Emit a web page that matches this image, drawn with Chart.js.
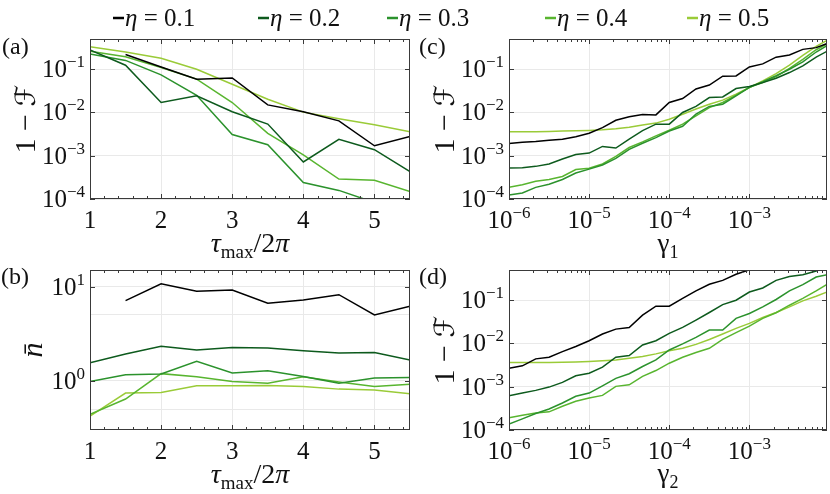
<!DOCTYPE html>
<html>
<head>
<meta charset="utf-8">
<script src="https://cdn.jsdelivr.net/npm/chart.js@4.4.1/dist/chart.umd.min.js"></script>
<style>
  body { margin: 0; background: #fff; }
  #wrap { position: relative; width: 830px; height: 494px; }
  #wrap canvas { position: absolute; left: 0; top: 0; }
</style>
</head>
<body>
<div id="wrap">
  <canvas id="pa" width="830" height="494"></canvas>
  <canvas id="pb" width="830" height="494"></canvas>
  <canvas id="pc" width="830" height="494"></canvas>
  <canvas id="pd" width="830" height="494"></canvas>
</div>
<script>
// ---- data ----
const etaLabels = ['0.1', '0.2', '0.3', '0.4', '0.5'];
const etaColors = ['#000000', '#0d5a1d', '#2b922c', '#58b52f', '#9acb38'];

const tauMax = [1, 1.5, 2, 2.5, 3, 3.5, 4, 4.5, 5, 5.5];

// (a) 1 - F vs tau_max / 2pi
const infidTau01 = [null, 0.22, 0.113, 0.059, 0.063, 0.015, 0.0104, 0.0064, 0.0017, 0.0028];
const infidTau02 = [0.279, 0.124, 0.017, 0.0243, 0.0104, 0.0054, 0.00072, 0.0024, 0.00138, 0.00043];
const infidTau03 = [0.226, 0.16, 0.074, 0.025, 0.0031, 0.0018, 0.00024, 0.000158, 8.3e-5, 5e-5];
const infidTau04 = [0.26, 0.195, 0.11, 0.059, 0.017, 0.0033, 0.00105, 0.00029, 0.00027, 0.000148];
const infidTau05 = [0.333, 0.25, 0.179, 0.1, 0.045, 0.0203, 0.0102, 0.0072, 0.0052, 0.0036];

// (b) mean phonon number vs tau_max / 2pi
const nbarTau01 = [null, 7.1, 10.7, 8.9, 9.2, 6.65, 7.2, 8.2, 5.0, 6.2];
const nbarTau02 = [1.55, 1.92, 2.32, 2.12, 2.26, 2.23, 2.08, 1.97, 1.99, 1.66];
const nbarTau03 = [0.98, 1.16, 1.18, 1.61, 1.21, 1.28, 1.11, 0.94, 1.07, 1.08];
const nbarTau04 = [0.44, 0.64, 1.19, 1.10, 0.98, 0.94, 1.10, 0.97, 0.87, 0.92];
const nbarTau05 = [0.42, 0.74, 0.75, 0.885, 0.885, 0.89, 0.87, 0.815, 0.80, 0.73];

// decay rates (shared by c and d)
const gammas = [
  1e-6, 1.468e-6, 2.154e-6, 3.162e-6, 4.642e-6, 6.813e-6,
  1e-5, 1.468e-5, 2.154e-5, 3.162e-5, 4.642e-5, 6.813e-5,
  1e-4, 1.468e-4, 2.154e-4, 3.162e-4, 4.642e-4, 6.813e-4,
  1e-3, 1.468e-3, 2.154e-3, 3.162e-3, 4.642e-3, 6.813e-3, 1e-2
];

// (c) 1 - F vs gamma_1
const infidG1_01 = [1.93e-3, 2.04e-3, 2.14e-3, 2.29e-3, 2.40e-3, 2.75e-3, 3.31e-3, 4.47e-3, 6.6e-3, 8.0e-3, 9.0e-3, 8.8e-3,
  1.7e-2, 2.1e-2, 3.5e-2, 4.3e-2, 6.9e-2, 7.0e-2, 0.113, 0.133, 0.19, 0.214, 0.288, 0.316, 0.41];
const infidG1_02 = [5.19e-4, 5.28e-4, 5.68e-4, 6.46e-4, 8.38e-4, 1.07e-3, 1.15e-3, 1.64e-3, 1.51e-3, 2.43e-3, 3.8e-3, 5.37e-3,
  5.37e-3, 1.0e-2, 1.38e-2, 2.22e-2, 2.29e-2, 3.58e-2, 3.98e-2, 4.9e-2, 6.17e-2, 8.38e-2, 0.119, 0.19, 0.28];
const infidG1_03 = [1.23e-4, 1.38e-4, 1.86e-4, 2.19e-4, 2.82e-4, 3.98e-4, 4.9e-4, 6.1e-4, 8.71e-4, 1.41e-3, 1.95e-3, 2.63e-3,
  3.72e-3, 4.79e-3, 9.12e-3, 1.38e-2, 1.55e-2, 2.43e-2, 3.8e-2, 5.13e-2, 7.08e-2, 0.1, 0.148, 0.25, 0.38];
const infidG1_04 = [1.86e-4, 2.14e-4, 2.57e-4, 2.82e-4, 3.31e-4, 4.79e-4, 5.13e-4, 6.46e-4, 9.66e-4, 1.55e-3, 2.09e-3, 2.88e-3,
  3.89e-3, 5.37e-3, 8.32e-3, 1.3e-2, 1.7e-2, 2.51e-2, 3.8e-2, 4.9e-2, 6.76e-2, 0.105, 0.17, 0.282, 0.417];
const infidG1_05 = [3.58e-3, 3.58e-3, 3.58e-3, 3.63e-3, 3.72e-3, 3.78e-3, 3.85e-3, 3.98e-3, 4.2e-3, 4.57e-3, 5.13e-3, 5.68e-3,
  7.0e-3, 9.12e-3, 1.2e-2, 1.55e-2, 1.93e-2, 2.65e-2, 3.78e-2, 5.37e-2, 7.94e-2, 0.124, 0.209, 0.339, 0.5];

// (d) 1 - F vs gamma_2
const infidG2_01 = [2.69e-3, 3.04e-3, 4.41e-3, 4.81e-3, 6.49e-3, 8.51e-3, 1.16e-2, 1.66e-2, 2.15e-2, 2.34e-2, 4.52e-2, 7.28e-2,
  7.28e-2, 0.11, 0.164, 0.234, 0.288, 0.398, 0.507, 0.63, 0.76, 0.87, 0.93, 0.98, 1.0];
const infidG2_02 = [6.21e-4, 7.14e-4, 8.24e-4, 9.82e-4, 1.26e-3, 1.79e-3, 2.06e-3, 2.83e-3, 4.81e-3, 5.25e-3, 9.25e-3, 1.16e-2,
  1.71e-2, 2.36e-2, 3.47e-2, 5.2e-2, 7.94e-2, 0.1, 0.155, 0.192, 0.288, 0.355, 0.389, 0.472, 0.631];
const infidG2_03 = [1.38e-4, 1.81e-4, 2.4e-4, 3.07e-4, 4.22e-4, 6.03e-4, 7.14e-4, 1.05e-3, 1.56e-3, 2.0e-3, 2.94e-3, 4.17e-3,
  7.08e-3, 9.77e-3, 1.39e-2, 2.04e-2, 2.04e-2, 3.8e-2, 4.93e-2, 7.03e-2, 0.104, 0.164, 0.229, 0.344, 0.398];
const infidG2_04 = [1.91e-4, 2.19e-4, 2.48e-4, 2.63e-4, 3.55e-4, 4.6e-4, 5.5e-4, 6.31e-4, 1.02e-3, 1.11e-3, 1.74e-3, 2.37e-3,
  3.5e-3, 4.81e-3, 6.17e-3, 7.76e-3, 1.24e-2, 1.78e-2, 2.51e-2, 3.8e-2, 5.13e-2, 7.67e-2, 0.11, 0.164, 0.251];
const infidG2_05 = [3.63e-3, 3.63e-3, 3.63e-3, 3.63e-3, 3.67e-3, 3.72e-3, 3.82e-3, 3.98e-3, 4.17e-3, 4.57e-3, 5.01e-3, 5.75e-3,
  6.76e-3, 7.76e-3, 9.55e-3, 1.24e-2, 1.66e-2, 2.24e-2, 2.91e-2, 3.98e-2, 5.2e-2, 7.03e-2, 9.66e-2, 0.124, 0.164];

// tick labels
const tauTicks = [1, 2, 3, 4, 5];
const tauMinor = [1.2, 1.4, 1.6, 1.8, 2.2, 2.4, 2.6, 2.8, 3.2, 3.4, 3.6, 3.8, 4.2, 4.4, 4.6, 4.8, 5.2, 5.4];
const gammaTicks = [1e-6, 1e-5, 1e-4, 1e-3];
const gammaExp = ['6', '5', '4', '3'];
const infidTicks = [1e-4, 1e-3, 1e-2, 1e-1];
const infidExp = ['4', '3', '2', '1'];
const nbarTicks = [1, 10];
const nbarExp = ['0', '1'];
const nbarGrid = [0.5, 1, 5, 10];

// ---- drawing helpers ----
const SERIF = "'Liberation Serif', 'Times New Roman', serif";
const AXIS = '#3a3a3a';
const TEXT = '#111111';

const txt = (t, size = 25) => ({ t, size });
const ital = (t, size = 25) => ({ t, size, it: true });
const sup = (t) => ({ t, size: 17, dy: -10 });
const sub = (t, size = 17) => ({ t, size, dy: 6 });
const pow10 = (e, neg) => [txt('10'), sup((neg ? '\u2212' : '') + e)];

function segFont(s) {
  return (s.it ? 'italic ' : '') + s.size + 'px ' + (s.family || SERIF);
}
function richWidth(ctx, segs) {
  let w = 0;
  segs.forEach((s) => { ctx.font = segFont(s); w += ctx.measureText(s.t).width; });
  return w;
}
function drawRich(ctx, segs, x, y, align) {
  const w = richWidth(ctx, segs);
  let cx = align === 'center' ? x - w / 2 : align === 'right' ? x - w : x;
  ctx.textAlign = 'left';
  ctx.textBaseline = 'alphabetic';
  segs.forEach((s) => {
    ctx.font = segFont(s);
    ctx.fillText(s.t, cx, y + (s.dy || 0));
    cx += ctx.measureText(s.t).width;
  });
}

function logMinors(from, to) {
  const out = [];
  for (let d = from; d < to; d *= 10) {
    for (let m = 2; m <= 9; m++) out.push(m * d);
  }
  return out;
}

const decor = {
  id: 'decor',
  afterDraw(chart, args, o) {
    const { ctx, chartArea: a, scales: { x, y } } = chart;
    ctx.save();

    // inward tick marks on all four sides
    ctx.strokeStyle = AXIS;
    ctx.lineWidth = 1;
    ctx.beginPath();
    const xTick = (v, len) => {
      if (v > x.max) return;
      const px = Math.round(x.getPixelForValue(v)) + 0.5;
      ctx.moveTo(px, a.bottom); ctx.lineTo(px, a.bottom - len);
      ctx.moveTo(px, a.top); ctx.lineTo(px, a.top + len);
    };
    const yTick = (v, len) => {
      const py = Math.round(y.getPixelForValue(v)) + 0.5;
      ctx.moveTo(a.left, py); ctx.lineTo(a.left + len, py);
      ctx.moveTo(a.right, py); ctx.lineTo(a.right - len, py);
    };
    o.xMajor.forEach((v) => xTick(v, 5));
    o.xMinor.forEach((v) => xTick(v, 3));
    o.yMajor.forEach((v) => yTick(v, 5));
    ctx.stroke();
    ctx.strokeRect(Math.round(a.left) + 0.5, Math.round(a.top) + 0.5,
      Math.round(a.right - a.left) - 1, Math.round(a.bottom - a.top) - 1);

    // tick labels
    ctx.fillStyle = TEXT;
    o.xMajor.forEach((v, i) => {
      drawRich(ctx, o.xLabels[i], x.getPixelForValue(v), a.bottom + 29, 'center');
    });
    o.yMajor.forEach((v, i) => {
      drawRich(ctx, o.yLabels[i], a.left - 5, y.getPixelForValue(v) + 8, 'right');
    });

    // axis titles
    drawRich(ctx, o.xTitle, (a.left + a.right) / 2, o.xTitleY, 'center');
    ctx.save();
    ctx.translate(o.yTitleX, (a.top + a.bottom) / 2);
    ctx.rotate(-Math.PI / 2);
    drawRich(ctx, o.yTitle, 0, 0, 'center');
    ctx.restore();

    // panel tag
    drawRich(ctx, [txt(o.tag, 24)], o.tagX, o.tagY, 'left');

    // shared legend along the top
    if (o.legendX) {
      chart.data.datasets.forEach((ds, i) => {
        const lx = o.legendX[i];
        ctx.strokeStyle = ds.borderColor;
        ctx.lineWidth = 2.5;
        ctx.beginPath();
        ctx.moveTo(lx, 18); ctx.lineTo(lx + 11, 18);
        ctx.stroke();
        ctx.fillStyle = TEXT;
        drawRich(ctx, [ital('\u03b7', 25), txt(' = ' + ds.label, 25)], lx + 12, 26, 'left');
      });
    }
    ctx.restore();
  }
};

function makeDatasets(xs, series) {
  return series.map((ys, i) => ({
    label: etaLabels[i],
    data: xs.map((xv, j) => ({ x: xv, y: ys[j] })),
    borderColor: etaColors[i],
    borderWidth: 1.5,
    pointRadius: 0,
    tension: 0,
    clip: 0
  }));
}

function makeChart(id, area, xs, series, xScale, yScale, deco) {
  const [l, t, r, b] = area;
  const gridFor = (vals) => (scale) => { scale.ticks = vals.map((v) => ({ value: v })); };
  return new Chart(document.getElementById(id), {
    type: 'line',
    data: { datasets: makeDatasets(xs, series) },
    options: {
      responsive: false,
      animation: false,
      events: [],
      layout: { padding: { left: l, top: t, right: 830 - r, bottom: 494 - b } },
      plugins: { legend: { display: false }, tooltip: { enabled: false }, decor: deco },
      scales: {
        x: {
          type: xScale.type, min: xScale.min, max: xScale.max, bounds: 'data',
          afterBuildTicks: gridFor(xScale.grid),
          ticks: { display: false },
          grid: { color: '#e9e9e9', lineWidth: 1, drawTicks: false },
          border: { display: false }
        },
        y: {
          type: 'logarithmic', min: yScale.min, max: yScale.max, bounds: 'data',
          afterBuildTicks: gridFor(yScale.grid),
          ticks: { display: false },
          grid: { color: '#e9e9e9', lineWidth: 1, drawTicks: false },
          border: { display: false }
        }
      }
    },
    plugins: [decor]
  });
}

const tauLabels = tauTicks.map((v) => [txt(String(v))]);
const gammaLabels = gammaExp.map((e) => pow10(e, true));
const infidLabels = infidExp.map((e) => pow10(e, true));
const nbarLabels = nbarExp.map((e) => pow10(e, false));
const tauTitle = [ital('\u03c4', 28), sub('max', 19), txt('/2', 28), ital('\u03c0', 28)];
const infidTitle = [txt('1 \u2212 ', 30), { t: '\u2131', size: 28, family: "'DejaVu Serif', 'DejaVu Sans', serif" }];
const gammaMinor = logMinors(1e-6, 1e-2);

makeChart('pa', [90, 39, 410, 199], tauMax,
  [infidTau01, infidTau02, infidTau03, infidTau04, infidTau05],
  { type: 'linear', min: 1, max: 5.5, grid: tauTicks },
  { min: 1e-4, max: 0.5, grid: infidTicks },
  { xMajor: tauTicks, xMinor: tauMinor, xLabels: tauLabels, yMajor: infidTicks, yLabels: infidLabels,
    xTitle: tauTitle, xTitleY: 252, yTitle: infidTitle, yTitleX: 35,
    tag: '(a)', tagX: 2, tagY: 54, legendX: [113, 258, 387, 545, 687] });

makeChart('pb', [90, 270, 410, 430], tauMax,
  [nbarTau01, nbarTau02, nbarTau03, nbarTau04, nbarTau05],
  { type: 'linear', min: 1, max: 5.5, grid: tauTicks },
  { min: 0.3, max: 15, grid: nbarGrid },
  { xMajor: tauTicks, xMinor: tauMinor, xLabels: tauLabels, yMajor: nbarTicks, yLabels: nbarLabels,
    xTitle: tauTitle, xTitleY: 483, yTitle: [ital('n\u0304', 30)], yTitleX: 42,
    tag: '(b)', tagX: 1, tagY: 284 });

makeChart('pc', [509, 39, 827, 199], gammas,
  [infidG1_01, infidG1_02, infidG1_03, infidG1_04, infidG1_05],
  { type: 'logarithmic', min: 1e-6, max: 9.3e-3, grid: gammaTicks },
  { min: 1e-4, max: 0.5, grid: infidTicks },
  { xMajor: gammaTicks, xMinor: gammaMinor, xLabels: gammaLabels, yMajor: infidTicks, yLabels: infidLabels,
    xTitle: [txt('\u03b3', 27), sub('1', 18)], xTitleY: 252, yTitle: infidTitle, yTitleX: 454,
    tag: '(c)', tagX: 419, tagY: 54 });

makeChart('pd', [509, 270, 827, 430], gammas,
  [infidG2_01, infidG2_02, infidG2_03, infidG2_04, infidG2_05],
  { type: 'logarithmic', min: 1e-6, max: 9.3e-3, grid: gammaTicks },
  { min: 1e-4, max: 0.5, grid: infidTicks },
  { xMajor: gammaTicks, xMinor: gammaMinor, xLabels: gammaLabels, yMajor: infidTicks, yLabels: infidLabels,
    xTitle: [txt('\u03b3', 27), sub('2', 18)], xTitleY: 482, yTitle: infidTitle, yTitleX: 454,
    tag: '(d)', tagX: 419, tagY: 284 });
</script>
</body>
</html>
